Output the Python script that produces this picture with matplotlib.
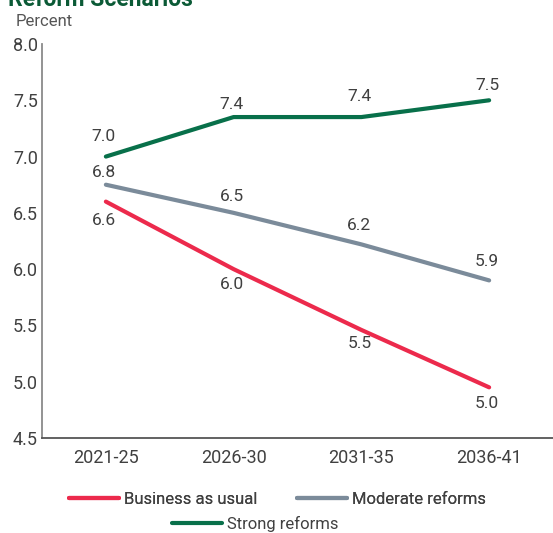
import matplotlib
matplotlib.use("Agg")
import matplotlib.pyplot as plt

plt.rcParams['font.family'] = ['Roboto', 'DejaVu Sans']

periods = ["2021-25", "2026-30", "2031-35", "2036-41"]
business_as_usual = [6.6, 6.0, 5.46, 4.95]
moderate_reforms = [6.75, 6.5, 6.22, 5.9]
strong_reforms = [7.0, 7.351, 7.351, 7.5]
y_ticks = [4.5, 5.0, 5.5, 6.0, 6.5, 7.0, 7.5, 8.0]

RED = "#EC2A4C"
GREY = "#7B8B9A"
GREEN = "#08704A"
TEXT = "#404040"

# vertical offsets (pixels) of each value label from its point
label_offsets = {
    "Business as usual": [-19, -15, -14, -16],
    "Moderate reforms": [12, 16, 19, 19],
    "Strong reforms": [20, 13, 21, 15],
}

fig = plt.figure(figsize=(5.53, 5.33), dpi=100)
ax = fig.add_axes([42 / 553, 1 - 438 / 533, 511 / 553, 394 / 533])

x = list(range(len(periods)))
series = [
    ("Business as usual", business_as_usual, RED),
    ("Moderate reforms", moderate_reforms, GREY),
    ("Strong reforms", strong_reforms, GREEN),
]
handles = []
px = 72 / 100
for name, vals, color in series:
    h, = ax.plot(x, vals, color=color, lw=3, solid_capstyle='round', label=name)
    handles.append(h)
    for xi, v, dy in zip(x, vals, label_offsets[name]):
        ax.annotate(f"{v:.1f}", (xi, v), xytext=(-2 * px, dy * px), textcoords='offset points',
                    ha='center', va='center', fontsize=12.5, color=TEXT)

ax.set_xlim(-0.5, 3.5)
ax.set_ylim(4.5, 8.0)
ax.set_xticks(x)
ax.set_xticklabels(periods)
ax.set_yticks(y_ticks)
ax.set_yticklabels([f"{t:.1f}" for t in y_ticks])
ax.tick_params(axis='both', length=0, labelsize=13, labelcolor=TEXT)
ax.tick_params(axis='x', pad=8)
ax.tick_params(axis='y', pad=3)
for s in ['top', 'right']:
    ax.spines[s].set_visible(False)
ax.spines['left'].set_color('#8a8a8a')
ax.spines['left'].set_linewidth(1.3)
ax.spines['bottom'].set_color('#555555')
ax.spines['bottom'].set_linewidth(1.3)

fig.text(8 / 553, 1 - 6 / 533, "Reform Scenarios", fontsize=16.5, fontweight='bold',
         color="#0b5a36", va='baseline', ha='left')
fig.text(16 / 553, 1 - 26 / 533, "Percent", fontsize=12, color="#555555",
         va='baseline', ha='left')

leg1 = fig.legend(handles[:2], [h.get_label() for h in handles[:2]], ncol=2,
                  loc='center', bbox_to_anchor=(0.502, 1 - 499 / 533), frameon=False,
                  fontsize=12, handlelength=3.0, handletextpad=0.3, columnspacing=2.4,
                  labelcolor=TEXT)
leg2 = fig.legend(handles[2:], [handles[2].get_label()], loc='center',
                  bbox_to_anchor=(0.462, 1 - 524 / 533), frameon=False,
                  fontsize=12, handlelength=3.0, handletextpad=0.3, labelcolor=TEXT)
fig.add_artist(leg1)

fig.savefig("out.png", dpi=100)
